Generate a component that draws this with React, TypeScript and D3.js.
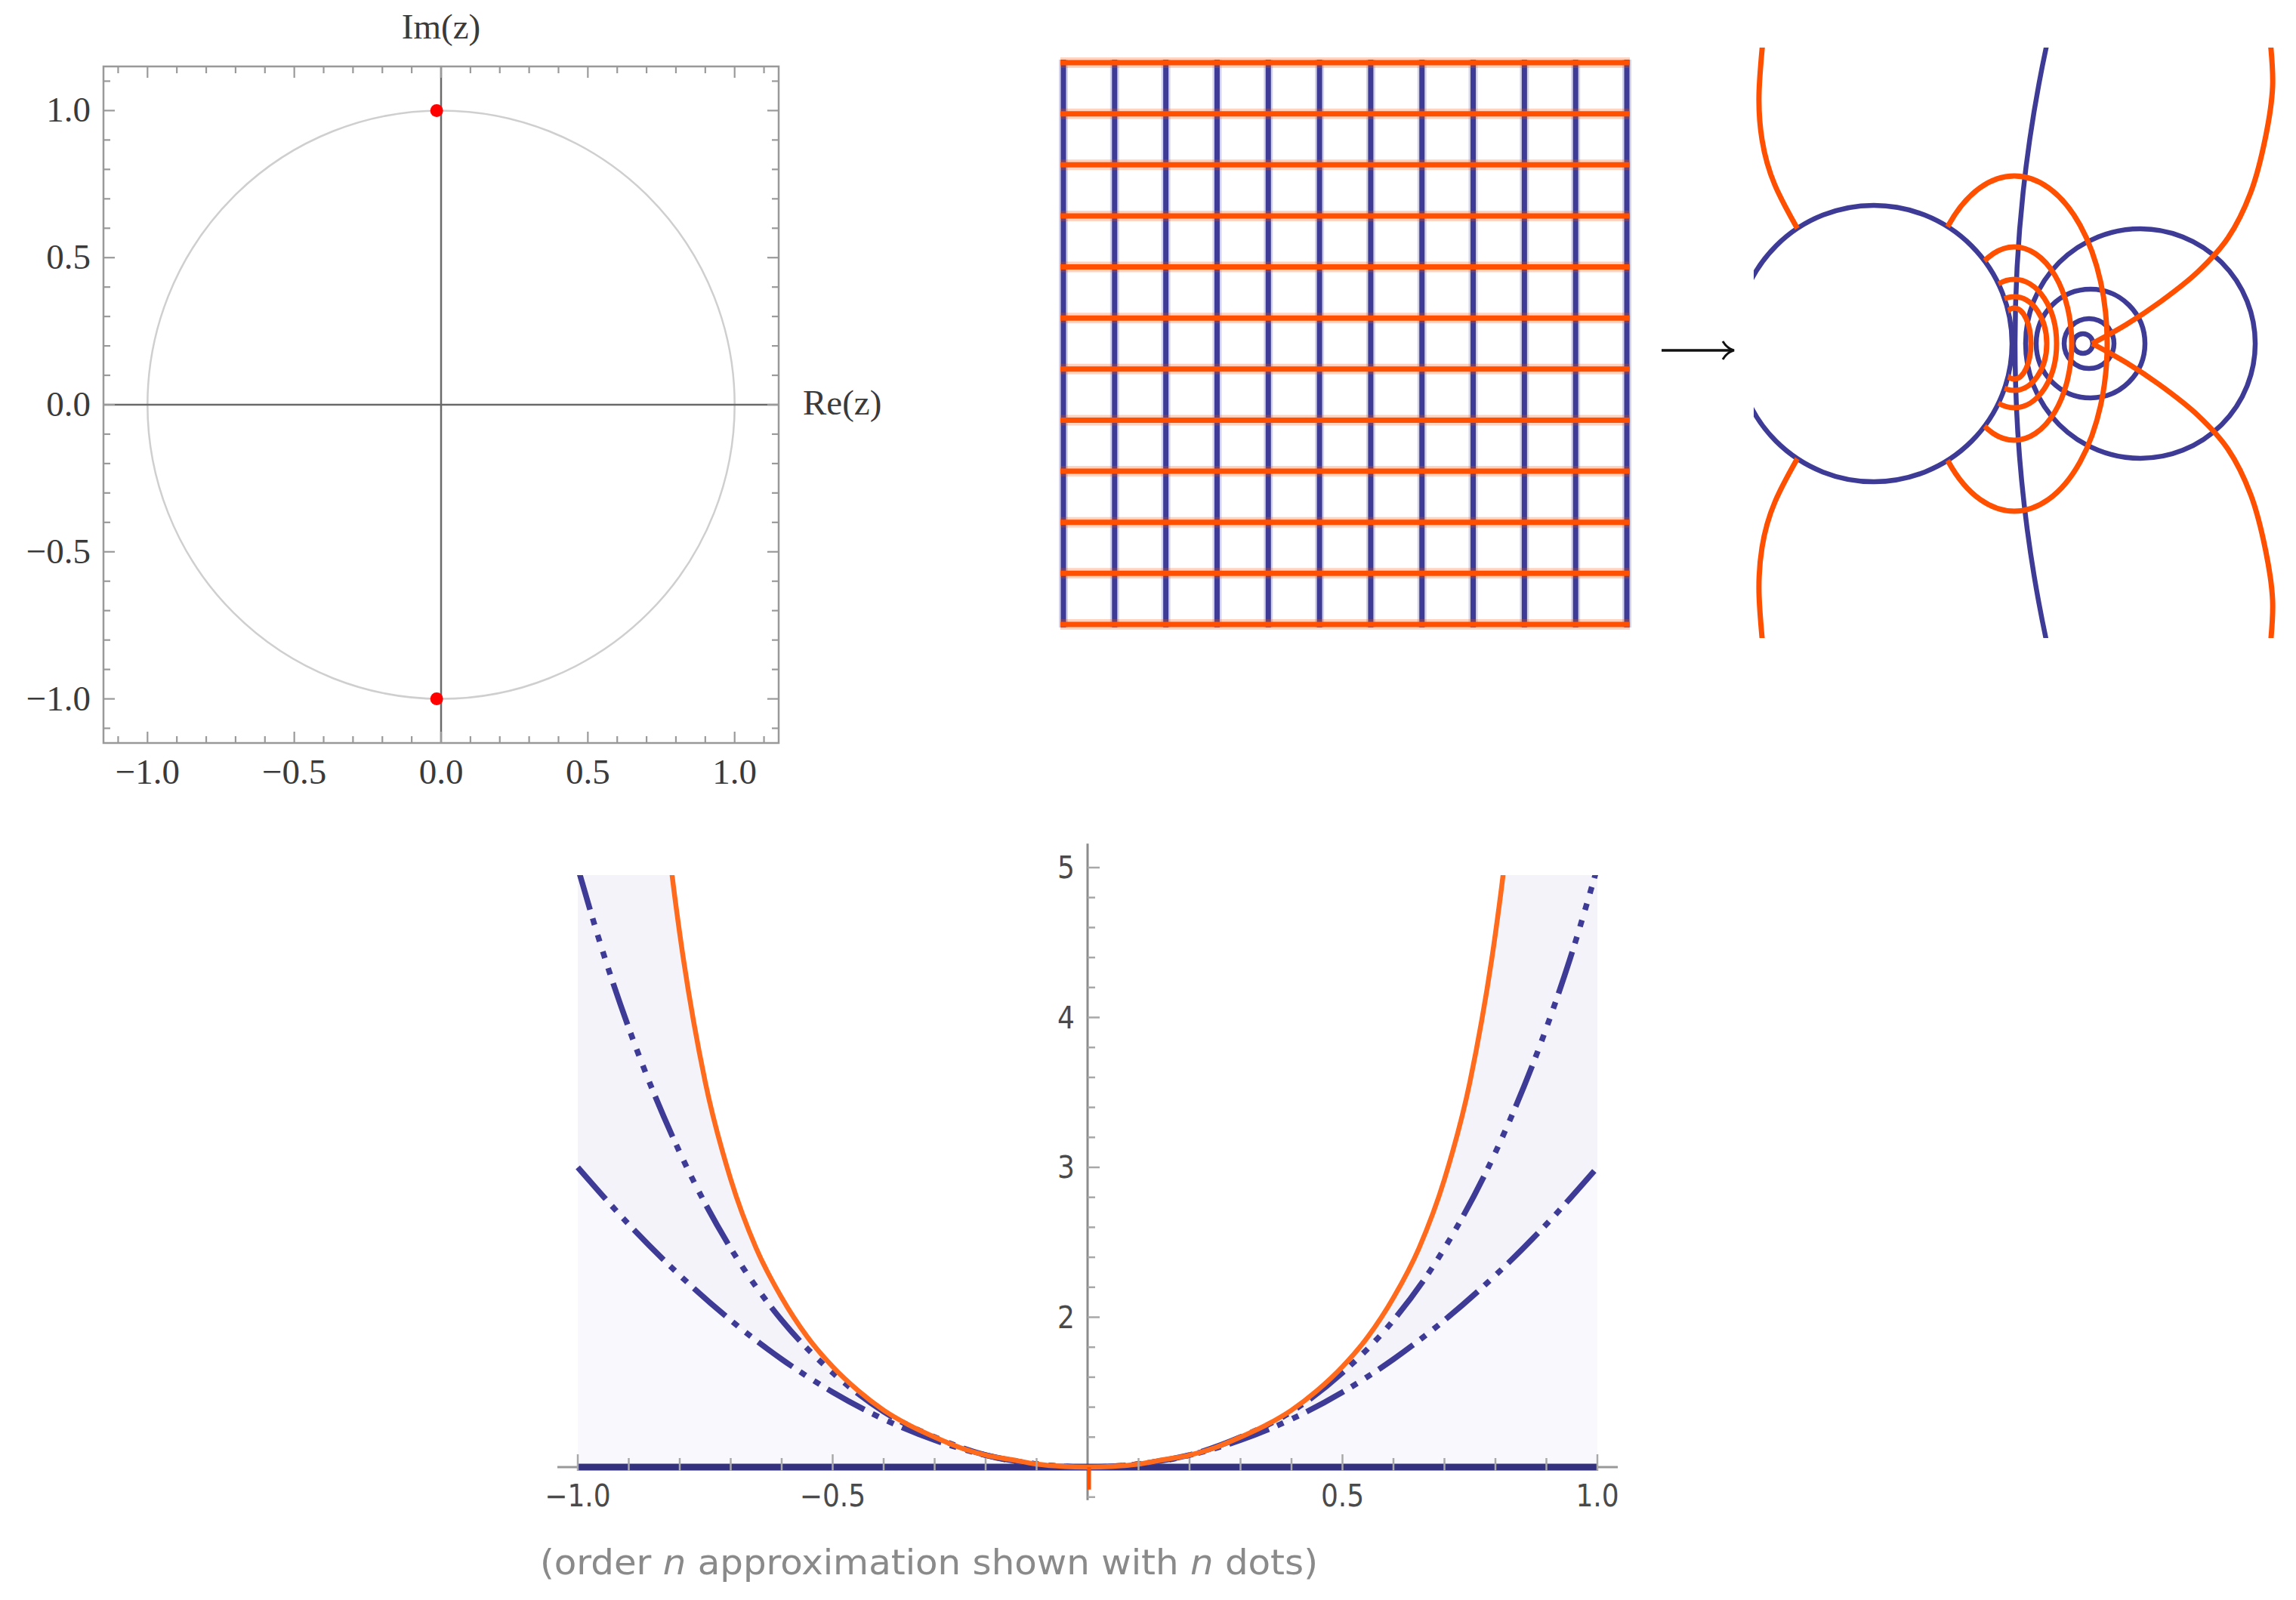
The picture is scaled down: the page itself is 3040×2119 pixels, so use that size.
import { useEffect, useRef } from 'react';
import * as d3 from 'd3';

const W = 3040;
const H = 2119;

// ---------- roots in the complex plane ----------
const rootRe = [-0.015, -0.015];
const rootIm = [1, -1];
const planeTicks = [-1, -0.5, 0, 0.5, 1];
const planeTickLabels = ['\u22121.0', '\u22120.5', '0.0', '0.5', '1.0'];

// ---------- source grid ----------
const gridValues = [-1.1, -0.9, -0.7, -0.5, -0.3, -0.1, 0.1, 0.3, 0.5, 0.7, 0.9, 1.1];

// ---------- image of the grid (w-plane) ----------
const blueCircleCx = [17.83, -2.89, 0.64, -0.02, -0.04, -0.12];
const blueCircleR = [18.85, 1.83, 1.52, 0.72, 0.33, 0.13];

const orangeLoopCx = [-1.03, -1.03, -1.03, -1.03, -1.03];
const orangeLoopRx = [1.23, 0.76, 0.56, 0.43, 0.22];
const orangeLoopRy = [2.22, 1.28, 0.85, 0.62, 0.47];

const orangeLeftUpper: [number, number][] = [
  [-4.36, 4.0], [-4.41, 3.3], [-4.37, 2.7], [-4.2, 2.1], [-3.9, 1.52], [-3.78, 1.3],
];
const orangeLeftLower: [number, number][] = [
  [-4.36, -4.0], [-4.41, -3.3], [-4.37, -2.7], [-4.2, -2.1], [-3.9, -1.52], [-3.78, -1.3],
];
const orangeRightUpper: [number, number][] = [
  [2.36, 4.0], [2.39, 3.4], [2.3, 2.75], [2.1, 2.0], [1.8, 1.4], [1.4, 0.95], [0.9, 0.55], [0.45, 0.25], [0, 0],
];
const orangeRightLower: [number, number][] = [
  [2.36, -4.0], [2.39, -3.4], [2.3, -2.75], [2.1, -2.0], [1.8, -1.4], [1.4, -0.95], [0.9, -0.55], [0.45, -0.25], [0, 0],
];

// ---------- series approximation ----------
const fX = [-0.83, -0.815, -0.8, -0.75, -0.7, -0.65, -0.6, -0.55, -0.5, -0.45, -0.4, -0.35, -0.3, -0.25, -0.2, -0.15, -0.1, -0.05, 0,
  0.05, 0.1, 0.15, 0.2, 0.25, 0.3, 0.35, 0.4, 0.45, 0.5, 0.55, 0.6, 0.65, 0.7, 0.75, 0.8, 0.815, 0.83];
const fY = [5.43, 4.95, 4.56, 3.57, 2.92, 2.46, 2.13, 1.87, 1.67, 1.51, 1.38, 1.28, 1.2, 1.13, 1.08, 1.05, 1.02, 1.005, 1,
  1.005, 1.02, 1.05, 1.08, 1.13, 1.2, 1.28, 1.38, 1.51, 1.67, 1.87, 2.13, 2.46, 2.92, 3.57, 4.56, 4.95, 5.43];

const approxX = [-1, -0.9, -0.8, -0.7, -0.6, -0.5, -0.4, -0.3, -0.2, -0.1, 0, 0.1, 0.2, 0.3, 0.4, 0.5, 0.6, 0.7, 0.8, 0.9, 1];
const order0Y = [1, 1, 1, 1, 1, 1, 1, 1, 1, 1, 1, 1, 1, 1, 1, 1, 1, 1, 1, 1, 1];
const order2Y = [3, 2.62, 2.28, 1.98, 1.72, 1.5, 1.32, 1.18, 1.08, 1.02, 1, 1.02, 1.08, 1.18, 1.32, 1.5, 1.72, 1.98, 2.28, 2.62, 3];
const order4X = [-1, -0.95, -0.9, -0.8, -0.7, -0.6, -0.5, -0.4, -0.3, -0.2, -0.1, 0, 0.1, 0.2, 0.3, 0.4, 0.5, 0.6, 0.7, 0.8, 0.9, 0.95, 1];
const order4Y = [5, 4.43, 3.93, 3.1, 2.46, 1.98, 1.63, 1.37, 1.2, 1.08, 1.02, 1, 1.02, 1.08, 1.2, 1.37, 1.63, 1.98, 2.46, 3.1, 3.93, 4.43, 5];

const yTickLabels = ['2', '3', '4', '5'];
const xTickValues = [-1, -0.5, 0.5, 1];
const xTickLabels = ['\u22121.0', '\u22120.5', '0.5', '1.0'];

const BLUE = '#3d3b96';
const ORANGE = '#ff4f00';
const SERIF = "'Liberation Serif', 'Times New Roman', serif";
const SANS = "'DejaVu Sans Condensed', 'Liberation Sans Narrow', 'DejaVu Sans', sans-serif";

type Sel = d3.Selection<SVGGElement, unknown, null, undefined>;

function drawPlane(g: Sel) {
  const x = d3.scaleLinear().domain([-1.15, 1.15]).range([137, 1031]);
  const y = d3.scaleLinear().domain([-1.15, 1.15]).range([984, 88]);
  const [x0, x1] = x.range();
  const [y0, y1] = y.range();

  g.append('ellipse')
    .attr('cx', x(0)).attr('cy', y(0))
    .attr('rx', x(1) - x(0)).attr('ry', y(0) - y(1))
    .attr('fill', 'none').attr('stroke', '#cfcfcf').attr('stroke-width', 2.5);

  g.append('line').attr('x1', x(0)).attr('x2', x(0)).attr('y1', y1).attr('y2', y0)
    .attr('stroke', '#6a6a6a').attr('stroke-width', 2.5);
  g.append('line').attr('x1', x0).attr('x2', x1).attr('y1', y(0)).attr('y2', y(0))
    .attr('stroke', '#6a6a6a').attr('stroke-width', 2.5);

  const ticks = d3.range(-11, 12).map((i) => ({ v: i / 10, major: i % 5 === 0 }));
  const tg = g.append('g').attr('stroke', '#9a9a9a').attr('stroke-width', 2.2);
  ticks.forEach((t) => {
    const len = t.major ? 15 : 9;
    tg.append('line').attr('x1', x(t.v)).attr('x2', x(t.v)).attr('y1', y0).attr('y2', y0 - len);
    tg.append('line').attr('x1', x(t.v)).attr('x2', x(t.v)).attr('y1', y1).attr('y2', y1 + len);
    tg.append('line').attr('y1', y(t.v)).attr('y2', y(t.v)).attr('x1', x0).attr('x2', x0 + len);
    tg.append('line').attr('y1', y(t.v)).attr('y2', y(t.v)).attr('x1', x1).attr('x2', x1 - len);
  });

  g.append('rect').attr('x', x0).attr('y', y1).attr('width', x1 - x0).attr('height', y0 - y1)
    .attr('fill', 'none').attr('stroke', '#999').attr('stroke-width', 2.5);

  g.selectAll('circle.root').data(rootRe).join('circle')
    .attr('cx', (d) => x(d)).attr('cy', (_, i) => y(rootIm[i])).attr('r', 8.5).attr('fill', '#ff0000');

  const txt = g.append('g').attr('font-family', SERIF).attr('font-size', 47).attr('fill', '#3a3a3a');
  planeTicks.forEach((t, i) => {
    txt.append('text').attr('x', x(t)).attr('y', 1038).attr('text-anchor', 'middle').text(planeTickLabels[i]);
    txt.append('text').attr('x', 120).attr('y', y(t) + 15).attr('text-anchor', 'end').text(planeTickLabels[i]);
  });
  txt.append('text').attr('x', x(0)).attr('y', 51).attr('text-anchor', 'middle').text('Im(z)');
  txt.append('text').attr('x', 1063).attr('y', y(0) + 13).text('Re(z)');
}

function drawGrid(g: Sel) {
  const x = d3.scaleLinear().domain([-1.1, 1.1]).range([1408, 2154]);
  const y = d3.scaleLinear().domain([1.1, -1.1]).range([83, 827]);
  const pad = 4;
  const vg = g.append('g');
  gridValues.forEach((v) => {
    vg.append('line').attr('x1', x(v)).attr('x2', x(v)).attr('y1', y(1.1) - pad).attr('y2', y(-1.1) + pad)
      .attr('stroke', BLUE).attr('stroke-opacity', 0.22).attr('stroke-width', 12);
    vg.append('line').attr('x1', x(v)).attr('x2', x(v)).attr('y1', y(1.1) - pad).attr('y2', y(-1.1) + pad)
      .attr('stroke', BLUE).attr('stroke-width', 7);
  });
  const hg = g.append('g');
  gridValues.forEach((v) => {
    hg.append('line').attr('y1', y(v)).attr('y2', y(v)).attr('x1', x(-1.1) - pad).attr('x2', x(1.1) + pad)
      .attr('stroke', ORANGE).attr('stroke-opacity', 0.25).attr('stroke-width', 14);
    hg.append('line').attr('y1', y(v)).attr('y2', y(v)).attr('x1', x(-1.1) - pad).attr('x2', x(1.1) + pad)
      .attr('stroke', ORANGE).attr('stroke-width', 7);
  });

  // arrow to the image
  const ay = 464;
  g.append('line').attr('x1', 2200).attr('x2', 2293).attr('y1', ay).attr('y2', ay)
    .attr('stroke', '#111').attr('stroke-width', 3.5);
  g.append('path').attr('d', `M2281,${ay - 12} Q2287,${ay - 2} 2296,${ay} Q2287,${ay + 2} 2281,${ay + 12}`)
    .attr('fill', 'none').attr('stroke', '#111').attr('stroke-width', 3);
}

function drawMap(g: Sel, defs: d3.Selection<SVGDefsElement, unknown, null, undefined>) {
  const x = d3.scaleLinear().domain([-4.48, 2.45]).range([2322, 3015]);
  const y = d3.scaleLinear().domain([-3.9, 3.92]).range([845, 63]);
  const [x0, x1] = x.range();
  const [yb, yt] = y.range();

  defs.append('clipPath').attr('id', 'mapClip')
    .append('rect').attr('x', x0).attr('y', yt).attr('width', x1 - x0).attr('height', yb - yt);
  const mask = defs.append('mask').attr('id', 'outsideLeft').attr('maskUnits', 'userSpaceOnUse')
    .attr('x', x0).attr('y', yt).attr('width', x1 - x0).attr('height', yb - yt);
  mask.append('rect').attr('x', x0).attr('y', yt).attr('width', x1 - x0).attr('height', yb - yt).attr('fill', '#fff');
  mask.append('circle').attr('cx', x(blueCircleCx[1])).attr('cy', y(0))
    .attr('r', x(blueCircleCx[1] + blueCircleR[1]) - x(blueCircleCx[1])).attr('fill', '#000');

  const root = g.append('g').attr('clip-path', 'url(#mapClip)');

  root.append('g').selectAll('circle').data(blueCircleCx).join('circle')
    .attr('cx', (d) => x(d)).attr('cy', y(0))
    .attr('r', (d, i) => x(d + blueCircleR[i]) - x(d))
    .attr('fill', 'none').attr('stroke', BLUE).attr('stroke-width', 6.5);

  const og = root.append('g').attr('mask', 'url(#outsideLeft)');
  og.selectAll('ellipse').data(orangeLoopCx).join('ellipse')
    .attr('cx', (d) => x(d)).attr('cy', y(0))
    .attr('rx', (d, i) => x(d + orangeLoopRx[i]) - x(d))
    .attr('ry', (_, i) => y(0) - y(orangeLoopRy[i]))
    .attr('fill', 'none').attr('stroke', ORANGE).attr('stroke-width', 7);

  const smooth = d3.line<[number, number]>().x((d) => x(d[0])).y((d) => y(d[1])).curve(d3.curveNatural);
  const line = d3.line<[number, number]>().x((d) => x(d[0])).y((d) => y(d[1])).curve(d3.curveCatmullRom);
  [orangeLeftUpper, orangeLeftLower].forEach((pts) => {
    og.append('path').attr('d', smooth(pts)).attr('fill', 'none')
      .attr('stroke', ORANGE).attr('stroke-width', 7);
  });
  [orangeRightUpper, orangeRightLower].forEach((pts) => {
    og.append('path').attr('d', line(pts)).attr('fill', 'none')
      .attr('stroke', ORANGE).attr('stroke-width', 7).attr('stroke-linejoin', 'miter');
  });
}

function drawSeries(g: Sel, defs: d3.Selection<SVGDefsElement, unknown, null, undefined>) {
  const x = d3.scaleLinear().domain([-1, 1]).range([765, 2115]);
  const y = d3.scaleLinear().domain([1, 5]).range([1943, 1149]);
  const TOP = 4.95;

  defs.append('clipPath').attr('id', 'seriesClip')
    .append('rect').attr('x', x(-1) - 8).attr('y', y(TOP)).attr('width', x(1) - x(-1) + 16).attr('height', y(0.8) - y(TOP));
  defs.append('clipPath').attr('id', 'fillClip')
    .append('rect').attr('x', x(-1)).attr('y', y(TOP)).attr('width', x(1) - x(-1)).attr('height', y(1) - y(TOP));

  const fill = g.append('g').attr('clip-path', 'url(#fillClip)');
  fill.append('rect').attr('x', x(-1)).attr('y', y(TOP)).attr('width', x(1) - x(-1)).attr('height', y(1) - y(TOP))
    .attr('fill', '#f3f3f9');
  const aboveF = d3.area<number>().x((d) => x(d)).y0((_, i) => y(fY[i])).y1(y(TOP)).curve(d3.curveMonotoneX);
  fill.append('path').attr('d', aboveF(fX)).attr('fill', '#fff');
  const belowO2 = d3.area<number>().x((d) => x(d)).y0(y(1)).y1((_, i) => y(order2Y[i])).curve(d3.curveMonotoneX);
  fill.append('path').attr('d', belowO2(approxX)).attr('fill', '#f9f9fd');

  // axes
  g.append('line').attr('x1', x(-1.04)).attr('x2', x(1.04)).attr('y1', y(1)).attr('y2', y(1))
    .attr('stroke', '#999').attr('stroke-width', 3);
  g.append('line').attr('x1', x(0)).attr('x2', x(0)).attr('y1', y(0.78)).attr('y2', y(5.16))
    .attr('stroke', '#8c8c8c').attr('stroke-width', 3);

  const curves = g.append('g').attr('clip-path', 'url(#seriesClip)').attr('fill', 'none');
  const mk = (xs: number[], ys: number[]) =>
    d3.line<number>().x((d) => x(d)).y((_, i) => y(ys[i])).curve(d3.curveMonotoneX)(xs);

  curves.append('path').attr('d', mk(approxX, order0Y)).attr('stroke', '#34327f').attr('stroke-width', 9);
  curves.append('path').attr('d', mk(approxX, order2Y)).attr('stroke', BLUE).attr('stroke-width', 7.5)
    .attr('stroke-dasharray', '56 12 9 13 9 12');
  curves.append('path').attr('d', mk(order4X, order4Y)).attr('stroke', BLUE).attr('stroke-width', 7.5)
    .attr('stroke-dasharray', '58 12 9 14 9 14 9 14 9 12');
  curves.append('path').attr('d', mk(fX, fY)).attr('stroke', '#ff6a1c').attr('stroke-width', 6.5);

  // expansion point marker
  g.append('line').attr('x1', x(0.003)).attr('x2', x(0.003)).attr('y1', y(1)).attr('y2', y(0.85))
    .attr('stroke', ORANGE).attr('stroke-width', 5);

  // ticks
  const tg = g.append('g').attr('stroke', '#a8a8a8').attr('stroke-width', 2.5);
  d3.range(-10, 11).filter((i) => i !== 0).forEach((i) => {
    const len = i % 5 === 0 ? 17 : 12;
    tg.append('line').attr('x1', x(i / 10)).attr('x2', x(i / 10)).attr('y1', y(1) + 5).attr('y2', y(1) - len);
  });
  d3.range(4, 26).filter((i) => i !== 5).forEach((i) => {
    const v = i / 5;
    const len = i % 5 === 0 ? 16 : 10;
    tg.append('line').attr('x1', x(0)).attr('x2', x(0) + len).attr('y1', y(v)).attr('y2', y(v));
  });

  const txt = g.append('g').attr('font-family', SANS).attr('font-stretch', 'condensed')
    .attr('font-size', 40).attr('fill', '#4a4a4a');
  yTickLabels.forEach((l) => {
    txt.append('text').attr('x', 1423).attr('y', y(+l) + 14).attr('text-anchor', 'end').text(l);
  });
  xTickValues.forEach((v, i) => {
    txt.append('text').attr('x', x(v)).attr('y', 1995).attr('text-anchor', 'middle').text(xTickLabels[i]);
  });

  const cap = g.append('text').attr('x', 715).attr('y', 2085).attr('font-family', SANS)
    .attr('font-stretch', 'condensed').attr('font-size', 46).attr('fill', '#8a8a8a')
    .attr('textLength', 1030).attr('lengthAdjust', 'spacingAndGlyphs');
  cap.append('tspan').text('(order ');
  cap.append('tspan').attr('font-style', 'italic').text('n');
  cap.append('tspan').text(' approximation shown with ');
  cap.append('tspan').attr('font-style', 'italic').text('n');
  cap.append('tspan').text(' dots)');
}

export default function App() {
  const svgRef = useRef<SVGSVGElement>(null);

  useEffect(() => {
    const svg = d3.select(svgRef.current);
    svg.selectAll('*').remove();
    const defs = svg.append('defs');
    const g = svg.append('g') as unknown as Sel;
    drawPlane(g.append('g'));
    drawGrid(g.append('g'));
    drawMap(g.append('g'), defs);
    drawSeries(g.append('g'), defs);
  }, []);

  return (
    <svg
      ref={svgRef}
      width={W}
      height={H}
      style={{ position: 'absolute', left: 0, top: 0, background: '#fff' }}
    />
  );
}
